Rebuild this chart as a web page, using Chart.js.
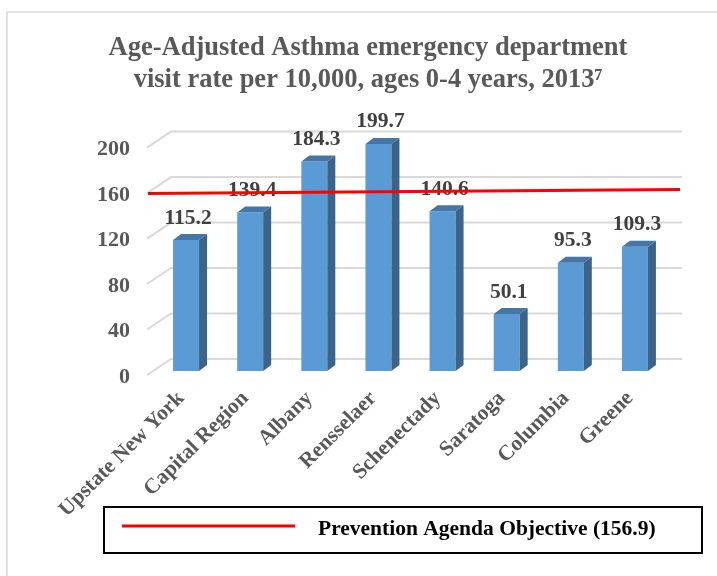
<!DOCTYPE html>
<html>
<head>
<meta charset="utf-8">
<script src="https://cdn.jsdelivr.net/npm/chart.js@4.4.0/dist/chart.umd.min.js"></script>
<style>
  html, body { margin: 0; padding: 0; background: #fff; }
  #wrap { width: 717px; height: 576px; }
</style>
</head>
<body>
<div id="wrap"><canvas id="asthmaChart" width="717" height="576"></canvas></div>
<script>
// data
const regions = ['Upstate New York', 'Capital Region', 'Albany', 'Rensselaer', 'Schenectady', 'Saratoga', 'Columbia', 'Greene'];
const visitRates = [115.2, 139.4, 184.3, 199.7, 140.6, 50.1, 95.3, 109.3];
const yTicks = [0, 40, 80, 120, 160, 200];
const objective = 156.9;
const objectiveLabel = 'Prevention Agenda Objective (156.9)';
const titleLines = ['Age-Adjusted Asthma emergency department', 'visit rate per 10,000, ages 0-4 years, 2013\u2077'];

const SERIF = '"Liberation Serif", "Times New Roman", serif';
const GRAY_TEXT = '#595959';

// fake 3D: back wall gridlines, bar top/side faces, labels, objective line, boxed legend
const excel3d = {
  id: 'excel3d',
  beforeDatasetsDraw(chart) {
    const { ctx, chartArea: a, scales: { y } } = chart;
    ctx.save();
    // outer chart frame
    ctx.strokeStyle = '#d9d9d9';
    ctx.lineWidth = 1.5;
    ctx.beginPath();
    ctx.moveTo(7, 590);
    ctx.lineTo(7, 12);
    ctx.lineTo(730, 12);
    ctx.stroke();

    ctx.lineWidth = 2;
    y.ticks.forEach(t => {
      const yf = y.getPixelForValue(t.value);
      ctx.beginPath();
      ctx.moveTo(a.left - 7, yf + 4);
      ctx.lineTo(a.left + 17, yf - 12);
      ctx.lineTo(a.right + 15, yf - 12);
      ctx.stroke();
    });
    ctx.restore();
  },
  afterDatasetsDraw(chart) {
    const { ctx, chartArea: a, scales: { y } } = chart;
    const meta = chart.getDatasetMeta(0);
    const dx = 8, dy = 6;
    ctx.save();
    meta.data.forEach((bar, i) => {
      const l = bar.x - bar.width / 2;
      const r = bar.x + bar.width / 2;
      const top = bar.y, base = bar.base;
      // top face
      ctx.fillStyle = '#4576a6';
      ctx.beginPath();
      ctx.moveTo(l, top);
      ctx.lineTo(l + dx, top - dy);
      ctx.lineTo(r + dx, top - dy);
      ctx.lineTo(r, top);
      ctx.closePath();
      ctx.fill();
      // side face
      ctx.fillStyle = '#3a6489';
      ctx.beginPath();
      ctx.moveTo(r, top);
      ctx.lineTo(r + dx, top - dy);
      ctx.lineTo(r + dx, base - dy);
      ctx.lineTo(r, base);
      ctx.closePath();
      ctx.fill();
      // value label
      ctx.fillStyle = '#404040';
      ctx.font = 'bold 21.5px ' + SERIF;
      ctx.textAlign = 'center';
      ctx.textBaseline = 'middle';
      ctx.fillText(visitRates[i].toFixed(1), bar.x + 2, top - 22);
    });

    // objective line (sits over the labels, as in the original)
    const yo = y.getPixelForValue(objective);
    ctx.strokeStyle = '#ff0000';
    ctx.lineWidth = 3;
    ctx.beginPath();
    ctx.moveTo(a.left - 6, yo + 1);
    ctx.lineTo(a.right + 13, yo - 3);
    ctx.stroke();
    ctx.restore();
  },
  afterDraw(chart) {
    const { ctx } = chart;
    ctx.save();
    ctx.strokeStyle = '#000';
    ctx.lineWidth = 2;
    ctx.strokeRect(104, 507, 598, 46);
    ctx.strokeStyle = '#ff0000';
    ctx.lineWidth = 3;
    ctx.beginPath();
    ctx.moveTo(122, 526);
    ctx.lineTo(295, 526);
    ctx.stroke();
    ctx.fillStyle = '#000';
    ctx.font = 'bold 21.5px ' + SERIF;
    ctx.textAlign = 'left';
    ctx.textBaseline = 'middle';
    ctx.fillText(objectiveLabel, 318, 529);
    ctx.restore();
  }
};

const data = {
  labels: regions,
  datasets: [{
    label: 'Visit rate',
    data: visitRates,
    backgroundColor: '#5b9bd5',
    borderWidth: 0,
    categoryPercentage: 1,
    barPercentage: 0.405
  }]
};

const config = {
  type: 'bar',
  data: data,
  options: {
    responsive: false,
    animation: false,
    layout: { padding: { left: 69, right: 50, top: 0, bottom: 55 } },
    plugins: {
      legend: { display: false },
      tooltip: { enabled: false },
      title: {
        display: true,
        text: titleLines,
        color: GRAY_TEXT,
        font: { family: SERIF, size: 26.5, weight: 'bold', lineHeight: 1.2 },
        padding: { top: 32, bottom: 48 }
      }
    },
    scales: {
      x: {
        grid: { display: false, drawTicks: false },
        border: { display: false },
        ticks: {
          autoSkip: false,
          minRotation: 45,
          maxRotation: 45,
          padding: 15,
          labelOffset: -5,
          color: GRAY_TEXT,
          font: { family: SERIF, size: 21.5, weight: 'bold' }
        },
        afterFit(scale) {
          scale.height = 150;
          scale.paddingLeft = 0;
          scale.paddingRight = 0;
        }
      },
      y: {
        min: 0,
        max: 200,
        grid: { display: false, drawTicks: false },
        border: { display: false },
        afterBuildTicks(scale) {
          scale.ticks = yTicks.map(v => ({ value: v }));
        },
        ticks: {
          padding: 24,
          labelOffset: 6,
          color: GRAY_TEXT,
          font: { family: SERIF, size: 22, weight: 'bold' }
        },
        afterFit(scale) {
          scale.width = 85;
        }
      }
    }
  },
  plugins: [excel3d]
};

window.addEventListener('DOMContentLoaded', () => {
  const ctx = document.getElementById('asthmaChart');
  new Chart(ctx, config);
});
</script>
</body>
</html>
